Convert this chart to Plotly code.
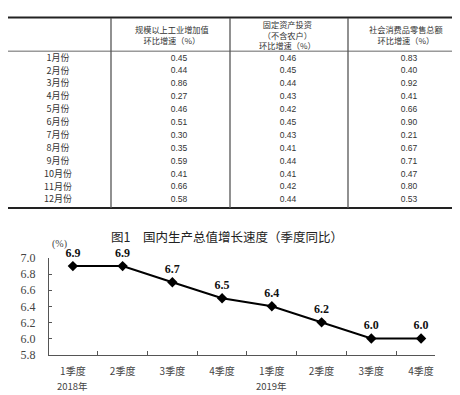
import plotly.graph_objects as go

# ---- table data ----
months = ["1月份", "2月份", "3月份", "4月份", "5月份", "6月份",
          "7月份", "8月份", "9月份", "10月份", "11月份", "12月份"]
industry = [0.45, 0.44, 0.86, 0.27, 0.46, 0.51, 0.30, 0.35, 0.59, 0.41, 0.66, 0.58]
investment = [0.46, 0.45, 0.44, 0.43, 0.42, 0.45, 0.43, 0.41, 0.44, 0.41, 0.42, 0.44]
retail = [0.83, 0.40, 0.92, 0.41, 0.66, 0.90, 0.21, 0.67, 0.71, 0.47, 0.80, 0.53]
headers = ["规模以上工业增加值<br>环比增速（%）",
           "固定资产投资<br>（不含农户）<br>环比增速（%）",
           "社会消费品零售总额<br>环比增速（%）"]

# ---- chart data ----
quarters = ["1季度", "2季度", "3季度", "4季度", "1季度", "2季度", "3季度", "4季度"]
years = ["2018年", "2019年"]
gdp = [6.9, 6.9, 6.7, 6.5, 6.4, 6.2, 6.0, 6.0]
yticks = [5.8, 6.0, 6.2, 6.4, 6.6, 6.8, 7.0]

W, H = 460, 395
fig = go.Figure()

# ---------- table (pixel-like hidden axes x2/y2) ----------
row_y0, row_step = 45, 13.36
rows_y = [row_y0 + i * row_step for i in range(len(months))]
col_x = [50, 171, 280, 401]
tfont = dict(family="Noto Sans CJK SC", size=9, color="#333")
vfont = dict(family="Liberation Sans", size=8.5, color="#333")

fig.add_trace(go.Scatter(x=[col_x[0]] * len(months), y=rows_y, text=months,
                         mode="text", textfont=tfont, xaxis="x2", yaxis="y2",
                         hoverinfo="skip", showlegend=False, cliponaxis=False))
for cx, vals in zip(col_x[1:], [industry, investment, retail]):
    fig.add_trace(go.Scatter(x=[cx] * len(vals), y=rows_y,
                             text=[f"{v:.2f}" for v in vals],
                             mode="text", textfont=vfont, xaxis="x2", yaxis="y2",
                             hoverinfo="skip", showlegend=False, cliponaxis=False))

header_x = [164, 279, 398]
header_y = [20.5, 20, 20.5]
for hx, hy, ht in zip(header_x, header_y, headers):
    fig.add_annotation(x=hx, y=hy, xref="x2", yref="y2", text=ht, showarrow=False,
                       yanchor="middle", borderpad=0,
                       font=dict(family="Noto Sans CJK SC", size=8.2, color="#333"),
                       align="center")

shapes = [
    dict(type="line", xref="x2", yref="y2", x0=0, x1=460, y0=2.5, y1=2.5,
         line=dict(color="#222", width=2)),
    dict(type="line", xref="x2", yref="y2", x0=0, x1=460, y0=37.5, y1=37.5,
         line=dict(color="#666", width=1)),
    dict(type="line", xref="x2", yref="y2", x0=0, x1=460, y0=200, y1=200,
         line=dict(color="#222", width=2)),
]
for vx in [103, 222, 340]:
    shapes.append(dict(type="line", xref="x2", yref="y2", x0=vx, x1=vx, y0=3, y1=200,
                       line=dict(color="#555", width=1.3)))

# ---------- line chart ----------
xi = list(range(len(gdp)))
fig.add_trace(go.Scatter(
    x=xi, y=gdp, mode="lines+markers+text",
    text=[f"{v:.1f}" for v in gdp], textposition="top center",
    textfont=dict(family="Liberation Serif", size=12, color="#111", weight="bold"),
    line=dict(color="#000", width=2),
    marker=dict(symbol="diamond", size=8, color="#000"),
    showlegend=False, hoverinfo="skip", cliponaxis=False))

axfont = dict(family="Liberation Serif", size=12, color="#444")
fig.update_layout(
    width=W, height=H, margin=dict(l=0, r=0, t=0, b=0),
    paper_bgcolor="white", plot_bgcolor="rgba(0,0,0,0)",
    xaxis=dict(domain=[41 / W, 427 / W], range=[-0.48, 7.28],
               tickvals=xi, ticktext=quarters, ticks="", showgrid=False,
               zeroline=False, showline=True, linecolor="#555", linewidth=1,
               ticklabelstandoff=7,
               tickfont=dict(family="Noto Sans CJK SC", size=10, color="#444"),
               minor=dict(tickmode="linear", tick0=0.5, dtick=1, ticks="inside",
                          ticklen=4, tickcolor="#555", showgrid=False),
               anchor="y"),
    yaxis=dict(domain=[(H - 352) / H, (H - 252) / H], range=[5.8, 7.0],
               tickvals=yticks, ticktext=[f"{v:.1f}" for v in yticks],
               ticks="inside", ticklen=3, tickcolor="#555", showgrid=False,
               zeroline=False, showline=True, linecolor="#555", linewidth=1,
               ticklabelstandoff=10,
               tickfont=axfont, anchor="x"),
    xaxis2=dict(domain=[0, 1], range=[0, W], visible=False, anchor="y2"),
    yaxis2=dict(domain=[0, 1], range=[H, 0], visible=False, anchor="x2"),
    shapes=shapes,
)

# title, unit and year labels
fig.add_annotation(x=219 / W, y=(H - 230) / H, xref="paper", yref="paper",
                   yanchor="middle",
                   text="图1　国内生产总值增长速度（季度同比）", showarrow=False,
                   font=dict(family="Noto Sans CJK SC", size=12.5, color="#222"))
fig.add_annotation(x=42 / W, y=(H - 237) / H, xref="paper", yref="paper",
                   yanchor="middle",
                   text="(%)", showarrow=False,
                   font=dict(family="Liberation Serif", size=10, color="#444"))
for xv, yr in zip([0, 4], years):
    fig.add_annotation(x=xv, y=(H - 385) / H, xref="x", yref="paper", text=yr,
                       yanchor="middle", showarrow=False,
                       font=dict(family="Noto Sans CJK SC", size=9.5, color="#444"))

fig.write_html("out.html")
